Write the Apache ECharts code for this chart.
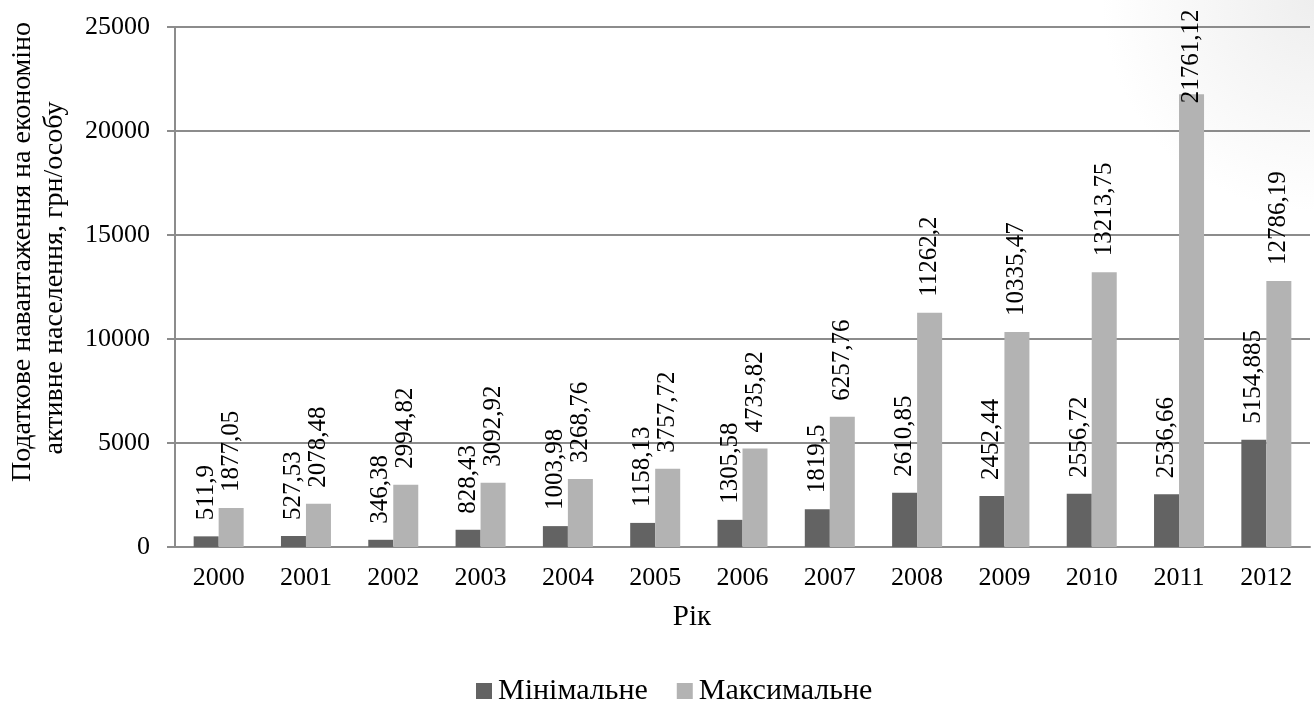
<!DOCTYPE html>
<html>
<head>
<meta charset="utf-8">
<script src="https://cdn.jsdelivr.net/npm/echarts@6/dist/echarts.min.js"></script>
<style>
html,body{margin:0;padding:0;background:#fff;}
#chart{width:1314px;height:707px;}
</style>
</head>
<body>
<div id="chart"></div>
<script>
const years = ['2000','2001','2002','2003','2004','2005','2006','2007','2008','2009','2010','2011','2012'];
const minValues = [511.9, 527.53, 346.38, 828.43, 1003.98, 1158.13, 1305.58, 1819.5, 2610.85, 2452.44, 2556.72, 2536.66, 5154.885];
const maxValues = [1877.05, 2078.48, 2994.82, 3092.92, 3268.76, 3757.72, 4735.82, 6257.76, 11262.2, 10335.47, 13213.75, 21761.12, 12786.19];
const seriesNames = ['Мінімальне', 'Максимальне'];
const yTitleLines = ['Податкове навантаження на економіно', 'активне населення, грн/особу'];
const xTitle = 'Рік';

const FONT = "'Liberation Serif', 'Times New Roman', serif";
const fmt = v => String(v).replace('.', ',');

const chart = echarts.init(document.getElementById('chart'), null, {renderer: 'canvas'});

function labelCfg() {
  return {
    show: true, position: 'top', rotate: 90, align: 'left', verticalAlign: 'middle',
    distance: 16, color: '#000', fontFamily: FONT, fontSize: 25,
    formatter: p => fmt(p.value)
  };
}

const maxData = maxValues.map((v, i) => {
  if (years[i] === '2011') return {value: v, label: {distance: -9}};
  return v;
});

chart.setOption({
  animation: false,
  backgroundColor: {
    type: 'radial', x: 1, y: 0, r: 0.3,
    colorStops: [{offset: 0, color: '#eeeeee'}, {offset: 1, color: '#ffffff'}]
  },
  textStyle: {fontFamily: FONT},
  grid: {left: 175, right: 4, top: 27, bottom: 160, containLabel: false},
  legend: {
    top: 676, left: 476, itemWidth: 16, itemHeight: 16, itemGap: 29,
    icon: 'rect', padding: 0,
    textStyle: {fontFamily: FONT, fontSize: 30, color: '#000', padding: [0, 0, 0, 1]},
    data: seriesNames
  },
  xAxis: {
    type: 'category', data: years,
    axisLine: {lineStyle: {color: '#8c8c8c', width: 2}},
    axisTick: {show: false},
    axisLabel: {color: '#000', fontSize: 26, fontFamily: FONT, margin: 18}
  },
  yAxis: {
    type: 'value', min: 0, max: 25000, interval: 5000,
    axisLine: {show: true, lineStyle: {color: '#8c8c8c', width: 2}},
    axisTick: {show: true, length: 8, lineStyle: {color: '#8c8c8c', width: 2}},
    splitLine: {lineStyle: {color: '#8c8c8c', width: 2}},
    axisLabel: {color: '#000', fontSize: 26, fontFamily: FONT, margin: 25, formatter: v => String(v)}
  },
  graphic: [
    {type: 'text', x: 692, y: 617,
     style: {text: xTitle, font: "29px 'Liberation Serif', serif", fill: '#000', textAlign: 'center', textVerticalAlign: 'middle'}},
    {type: 'text', x: 23, y: 252, rotation: Math.PI / 2,
     style: {text: yTitleLines[0], font: "28px 'Liberation Serif', serif", fill: '#000', textAlign: 'center', textVerticalAlign: 'middle'}},
    {type: 'text', x: 55, y: 278, rotation: Math.PI / 2,
     style: {text: yTitleLines[1], font: "28px 'Liberation Serif', serif", fill: '#000', textAlign: 'center', textVerticalAlign: 'middle'}}
  ],
  series: [
    {name: seriesNames[0], type: 'bar', data: minValues, barWidth: 25, barGap: '0%',
     itemStyle: {color: '#636363'}, label: labelCfg()},
    {name: seriesNames[1], type: 'bar', data: maxData, barWidth: 25, barGap: '0%',
     itemStyle: {color: '#b3b3b3'}, label: labelCfg()}
  ]
});
</script>
</body>
</html>
